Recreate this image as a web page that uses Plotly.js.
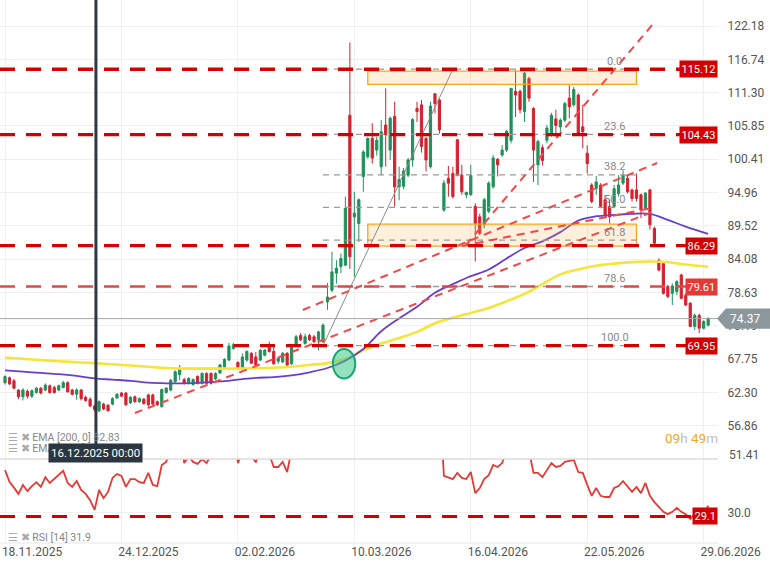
<!DOCTYPE html>
<html><head><meta charset="utf-8">
<script src="https://cdn.plot.ly/plotly-3.0.1.min.js"></script>
<style>html,body{margin:0;padding:0;background:#fff}#chart{width:770px;height:577px}</style>
</head><body><div id="chart"></div>
<script>
// ---------- DATA ----------
const openP = [63.9,64.7,64.2,62.7,61.6,62.5,61.7,62.3,63.0,62.7,63.4,63.1,62.7,63.1,63.9,62.7,62.0,62.7,61.5,61.2,
60.1,59.3,60.4,60.2,60.4,61.4,62.2,62.2,60.6,61.6,60.8,61.2,61.9,61.9,60.8,60.0,62.3,62.7,64.1,65.2,
64.4,63.8,63.6,64.9,63.8,65.4,65.4,64.5,65.5,66.5,67.6,69.5,67.2,66.2,67.6,68.7,68.1,67.6,68.4,70.0,
69.0,67.4,67.3,68.7,67.0,70.0,71.6,70.3,71.6,71.4,70.9,70.6,77.1,79.0,81.8,82.9,83.1,107.6,91.0,89.9,
97.6,100.8,103.8,101.9,99.2,106.0,101.9,107.4,95.9,96.0,97.8,100.3,108.7,109.3,103.8,99.2,111.1,110.1,92.1,97.3,
98.1,103.6,97.8,94.6,94.6,92.7,91.0,89.7,91.9,95.9,100.4,101.1,101.9,103.5,111.5,111.5,108.2,113.6,108.7,99.5,
102.3,103.5,104.4,107.0,105.7,106.8,110.4,109.3,110.9,105.7,101.4,96.2,95.6,96.2,93.8,92.7,92.7,94.8,96.5,97.3,
95.4,95.4,94.6,92.4,95.4,89.1,83.9,83.4,79.6,78.5,78.8,81.5,78.2,76.9,73.1,74.9,72.8,73.3];
const highP = [65.1,64.9,64.5,62.8,63.0,62.8,62.8,63.2,63.2,63.8,63.6,63.4,63.6,64.2,64.1,62.9,63.0,62.9,61.8,61.5,
60.3,61.0,60.6,60.4,61.5,62.2,62.4,62.4,61.7,61.8,61.5,61.4,62.1,62.1,61.0,62.9,63.2,64.5,65.9,66.8,
64.7,64.8,64.6,65.1,65.6,65.6,65.6,65.6,67.0,67.9,70.4,70.4,67.4,68.7,69.2,68.9,68.9,69.4,69.4,70.6,
70.0,68.1,68.9,68.9,70.2,71.7,72.0,71.9,71.9,71.7,72.4,73.6,80.2,85.3,83.9,85.0,94.3,119.5,95.1,94.0,
101.9,104.0,106.3,104.1,106.8,112.0,107.4,109.8,99.2,99.0,100.6,107.1,109.8,110.1,104.1,109.8,111.2,110.3,97.0,99.3,
99.2,103.7,99.5,95.1,99.5,93.2,91.5,94.1,96.8,101.1,100.6,102.7,105.2,112.0,115.0,111.8,114.7,113.9,108.9,103.6,
102.8,106.0,108.0,108.5,107.1,109.8,112.5,112.2,111.2,109.3,102.7,96.5,97.7,96.5,94.6,93.8,96.2,97.8,98.6,97.8,
95.6,98.1,94.8,95.0,95.6,89.4,84.2,83.7,79.9,80.1,80.7,81.7,78.5,77.0,75.2,75.2,74.1,74.6];
const lowP = [63.6,63.5,62.8,61.2,61.0,61.3,61.4,62.1,62.0,62.5,62.1,62.1,62.5,63.0,62.3,61.8,61.1,61.0,60.8,59.9,
59.2,59.1,59.4,59.2,60.2,61.2,61.6,60.1,60.4,60.6,60.6,60.3,59.7,60.2,60.1,59.8,62.1,62.5,63.7,64.3,
63.6,63.6,63.4,63.6,63.6,63.6,63.6,64.3,65.3,66.3,67.4,69.3,66.0,65.9,67.3,66.9,66.5,67.4,68.2,68.8,
66.8,67.0,67.1,66.6,66.8,69.8,70.7,70.1,70.7,70.4,69.2,70.4,75.8,78.7,80.1,81.8,83.0,82.5,81.2,86.9,
95.1,100.5,99.7,101.0,97.8,99.2,100.3,92.7,93.7,95.5,97.5,99.2,106.5,101.5,98.4,98.9,107.9,104.6,91.8,94.3,
94.0,97.6,94.6,94.0,94.5,83.7,88.0,89.1,91.6,95.6,97.6,100.8,101.6,103.0,107.3,107.9,106.5,109.8,96.7,96.2,
99.4,103.0,104.1,104.1,104.1,106.5,107.1,109.0,104.3,102.2,98.1,93.2,94.6,92.4,91.0,89.9,92.4,94.3,96.2,94.8,
93.5,93.5,90.8,92.1,88.9,86.4,82.1,78.3,77.7,76.6,78.2,77.5,76.4,73.0,72.5,72.0,72.6,73.1];
const closeP = [64.9,63.7,63.0,61.6,62.7,61.7,62.6,63.0,62.2,63.5,62.3,62.3,63.4,63.9,62.4,62.0,62.7,61.3,61.0,60.1,
59.5,60.8,59.6,59.3,61.3,62.0,61.7,60.3,61.5,60.8,61.3,60.5,60.3,60.4,60.3,62.8,63.0,64.3,65.7,66.1,
63.8,64.6,64.4,63.8,65.4,63.8,63.8,65.4,66.8,67.7,69.9,70.1,66.3,68.1,69.0,67.1,66.8,69.2,69.2,69.0,
67.0,67.9,68.7,66.8,70.0,71.4,70.9,71.4,70.9,70.6,72.2,73.3,77.9,82.0,82.6,84.2,92.4,84.5,91.6,93.8,
101.6,103.8,100.6,103.5,104.9,104.4,107.1,95.9,97.1,98.5,100.3,106.9,108.2,102.5,100.3,109.1,109.5,105.2,96.5,96.5,
94.3,97.8,95.1,95.0,97.8,89.9,88.3,93.8,96.5,100.6,99.5,101.9,105.0,112.0,110.9,108.5,114.5,110.4,101.9,103.3,
100.2,105.5,107.6,105.9,106.8,109.5,109.0,111.8,104.6,104.9,99.7,93.5,96.7,92.7,91.3,91.0,95.6,96.2,97.8,95.1,
94.0,94.0,92.1,94.9,89.7,86.7,82.3,78.5,78.0,79.7,80.4,77.7,76.6,73.1,74.9,72.8,73.9,74.4];

const rsi14 = [41.0,38.0,36.5,34.9,37.2,35.6,36.9,37.9,36.7,39.2,37.7,38.7,39.7,40.8,37.7,36.7,38.2,35.9,34.9,33.3,
30.8,35.9,33.8,35.4,39.0,40.0,39.5,36.7,38.7,38.7,37.9,37.7,40.3,37.2,36.9,42.3,43.1,47,52,54,
42.8,44.5,43.1,42.6,43.8,42.8,45,48,51,55,58,57,42.8,46,48,44.5,43.1,46,47,45,
41.8,41.8,43.1,40.5,48,52,50,53,51,50,55,60,68,72,73,75,82,60,68,71,
76,78,70,73,70,68,72,56,58,61,63,68,68,58,56,66,64,60,39.5,39.2,
38.7,40.3,39.0,38.7,40.5,35.1,36.4,38.7,39.7,42.3,41.8,42.8,46,55,54,50,57,46,40.3,40.3,
39.2,41.0,42.8,41.8,42.1,43.1,43.3,43.6,40.5,40.3,37.2,34.4,36.4,34.4,34.1,34.1,36.4,36.9,38.2,36.9,
35.4,36.7,35.1,37.7,34.4,32.8,31.5,30.3,29.7,30.3,31.3,30.3,29.7,28.5,29.7,30.3,29.3,31.9];

const emaIdx = [0,4,8,12,16,20,24,28,32,36,40,44,48,52,56,60,64,68,72,76,80,84,88,92,96,100,104,108,112,116,120,124,128,132,136,140,144,148,152,157];
const ema50 = [65.9,65.7,65.5,65.3,65.0,64.6,64.4,64.2,63.9,63.8,63.8,63.9,64.1,64.4,64.7,64.8,65.1,65.6,66.3,67.5,
69.4,72.3,74.4,76.3,78.6,80.0,81.3,82.4,84.2,85.9,87.0,88.5,90.4,91.1,91.3,91.5,91.5,90.5,89.4,88.2];
const ema200 = [68.0,67.8,67.6,67.4,67.25,67.1,66.9,66.7,66.5,66.3,66.2,66.2,66.2,66.2,66.25,66.35,66.5,66.8,67.1,67.8,
69.2,70.3,71.2,72.2,73.6,74.5,75.3,76.1,77.2,78.4,80.0,81.6,82.4,83.0,83.35,83.6,83.7,83.6,83.2,82.83];

const xTickIdx = [0,26,52,78,104,130,156];
const xTickText = ['18.11.2025','24.12.2025','02.02.2026','10.03.2026','16.04.2026','22.05.2026','29.06.2026'];
const yTickVals = [122.18,116.74,111.30,105.85,100.41,94.96,89.52,84.08,78.63,73.19,67.75,62.30,56.86];
const yBottomLabel = 51.41;

const keyLevels = [115.12,104.43,86.29,79.61,69.95];
const fibHigh = 115.12, fibLow = 69.95;
const fibLevels = [0.0,23.6,38.2,50.0,61.8,78.6,100.0];
const fibStartIdx = 71, fibEndIdx = 141, fibHighIdx = 100;
const lastPrice = 74.37;
const rsiLevel = 29.1;
const markerIdx = 20.3;
const markerLabel = '16.12.2025 00:00';
const topZone = [112.65,114.8], lowZone = [86.2,89.8], zoneIdx = [81,141];
const trendLines = [
  [29.0,58.94,144.5,91.79],
  [66.5,75.78,145.6,99.8],
  [102.0,86.23,144.5,92.45],
  [102.9,86.40,144.5,122.35]
];
const crossIdx = [73.2,78.2], crossPrice = [64.6,69.4];

// ---------- CHART ----------
const idx = openP.map((_, i) => i);
const D0 = 84/543;
const yMain = [51.43,126.43];
const paperY = p => D0 + (p - yMain[0]) / (yMain[1] - yMain[0]) * (1 - D0);
const FONT = 'Roboto, "Open Sans", sans-serif';

const traces = [
  {type:'candlestick', x:idx, open:openP, high:highP, low:lowP, close:closeP, xaxis:'x', yaxis:'y',
   increasing:{line:{color:'#1f915a', width:1}, fillcolor:'#1f915a'},
   decreasing:{line:{color:'#d3222f', width:1}, fillcolor:'#d3222f'},
   whiskerwidth:0, hoverinfo:'skip', showlegend:false},
  {type:'scatter', mode:'lines', x:emaIdx, y:ema200, line:{color:'#f7e43a', width:2.6, shape:'spline'}, xaxis:'x', yaxis:'y', hoverinfo:'skip', showlegend:false},
  {type:'scatter', mode:'lines', x:emaIdx, y:ema50, line:{color:'#6a3fc8', width:1.8, shape:'spline'}, xaxis:'x', yaxis:'y', hoverinfo:'skip', showlegend:false},
  {type:'scatter', mode:'lines', x:idx, y:rsi14, line:{color:'#e53935', width:1.8}, xaxis:'x', yaxis:'y2', hoverinfo:'skip', showlegend:false}
];

const shapes = [];
[topZone, lowZone].forEach(z => shapes.push({type:'rect', xref:'x', yref:'y', x0:zoneIdx[0], x1:zoneIdx[1], y0:z[0], y1:z[1],
  fillcolor:'rgba(255,170,60,0.18)', line:{color:'#f5a623', width:1.3}}));
fibLevels.forEach(l => { const p = fibHigh - l/100*(fibHigh - fibLow);
  shapes.push({type:'line', xref:'x', yref:'y', x0:fibStartIdx, x1:fibEndIdx, y0:p, y1:p, line:{color:'#9a9a9a', width:1.3, dash:'6px,5px'}}); });
shapes.push({type:'line', xref:'x', yref:'y', x0:fibStartIdx, y0:fibLow, x1:fibHighIdx, y1:fibHigh, line:{color:'#8a8a8a', width:1}});
trendLines.forEach(t => shapes.push({type:'line', xref:'x', yref:'y', x0:t[0], y0:t[1], x1:t[2], y1:t[3], line:{color:'#f04848', width:2, dash:'8px,6px'}}));
shapes.push({type:'line', xref:'paper', yref:'y', x0:0, x1:1, y0:lastPrice, y1:lastPrice, line:{color:'#a6a6a6', width:1}});
keyLevels.forEach(l => { const light = (l === 79.61);
  shapes.push({type:'line', xref:'paper', yref:'y', x0:0, x1:1, y0:l, y1:l, line:{color: light ? '#e84545' : '#d40000', width: light ? 2.6 : 3.4, dash:'15px,11px'}}); });
shapes.push({type:'circle', xref:'x', yref:'y', x0:crossIdx[0], x1:crossIdx[1], y0:crossPrice[0], y1:crossPrice[1],
  fillcolor:'rgba(60,200,140,0.55)', line:{color:'#17a673', width:2}});
shapes.push({type:'line', xref:'x', yref:'paper', x0:markerIdx, x1:markerIdx, y0:D0 + 0.02, y1:1, line:{color:'#2d3943', width:3}});
shapes.push({type:'line', xref:'paper', yref:'paper', x0:0, x1:1, y0:D0, y1:D0, line:{color:'#dcdcdc', width:1.5}});
shapes.push({type:'line', xref:'paper', yref:'paper', x0:0, x1:1, y0:0, y1:0, line:{color:'#e6e6e6', width:1}});
shapes.push({type:'line', xref:'paper', yref:'y2', x0:0, x1:1, y0:rsiLevel, y1:rsiLevel, line:{color:'#d40000', width:3, dash:'15px,11px'}});
const pxToPaperX = px => px / 718;
shapes.push({type:'path', xref:'paper', yref:'paper', fillcolor:'#8c979c', line:{width:0},
  path:`M ${pxToPaperX(717)},${paperY(lastPrice)} L ${pxToPaperX(726)},${paperY(lastPrice+1.65)} L ${pxToPaperX(770)},${paperY(lastPrice+1.65)} L ${pxToPaperX(770)},${paperY(lastPrice-1.65)} L ${pxToPaperX(726)},${paperY(lastPrice-1.65)} Z`});

const ann = [];
keyLevels.forEach(l => ann.push({xref:'paper', yref:'y', x:1, y:l, xanchor:'right', yanchor:'middle', text:l.toFixed(2), showarrow:false,
  font:{family:FONT, size:11, color:'#fff'}, bgcolor: l === 79.61 ? '#e53935' : '#d40000', borderpad:1.5}));
ann.push({xref:'paper', yref:'y2', x:1, y:rsiLevel, xanchor:'right', yanchor:'middle', text:rsiLevel.toFixed(1), showarrow:false,
  font:{family:FONT, size:11, color:'#fff'}, bgcolor:'#d40000', borderpad:1.5});
ann.push({xref:'paper', yref:'y', x:pxToPaperX(728), y:lastPrice, xanchor:'left', yanchor:'middle', text:lastPrice.toFixed(2), showarrow:false,
  font:{family:FONT, size:12, color:'#fff'}});
ann.push({xref:'paper', yref:'paper', x:pxToPaperX(727), y:1-455/543, xanchor:'left', yanchor:'middle', text:yBottomLabel.toFixed(2), showarrow:false,
  font:{family:FONT, size:12, color:'#555'}});
fibLevels.forEach(l => { const p = fibHigh - l/100*(fibHigh - fibLow);
  ann.push({xref:'x', yref:'y', x:136.2, y:p, yshift:8, text:l.toFixed(1), showarrow:false, font:{family:FONT, size:11, color:'#888'}}); });
ann.push({xref:'paper', yref:'paper', x:pxToPaperX(6), y:1-437/543, xanchor:'left', yanchor:'middle', showarrow:false,
  text:'<span style="color:#aaa">☰ ✖</span> EMA [200, 0] ' + ema200[ema200.length-1].toFixed(2), font:{family:FONT, size:10.5, color:'#888'}});
ann.push({xref:'paper', yref:'paper', x:pxToPaperX(6), y:1-448/543, xanchor:'left', yanchor:'middle', showarrow:false,
  text:'<span style="color:#aaa">☰ ✖</span> EMA [50, 0] ' + ema50[ema50.length-1].toFixed(2), font:{family:FONT, size:10.5, color:'#888'}});
ann.push({xref:'x', yref:'paper', x:markerIdx, y:1-453/543, xanchor:'center', yanchor:'middle', showarrow:false,
  text:markerLabel, font:{family:FONT, size:11.5, color:'#fff'}, bgcolor:'#2b3640', borderpad:2});
ann.push({xref:'paper', yref:'paper', x:pxToPaperX(6), y:1-537/543, xanchor:'left', yanchor:'middle', showarrow:false,
  text:'<span style="color:#aaa">☰ ✖</span> RSI [14] ' + rsi14[rsi14.length-1].toFixed(1), font:{family:FONT, size:10.5, color:'#888'}});
ann.push({xref:'paper', yref:'paper', x:pxToPaperX(720), y:1-438/543, xanchor:'right', yanchor:'middle', showarrow:false,
  text:'<span style="color:#f5a623">09</span><span style="color:#c0c0c0">h</span> <span style="color:#f5a623">49</span><span style="color:#c0c0c0">m</span>',
  font:{family:FONT, size:13.5, color:'#f5a623'}});

const layout = {
  width:770, height:577, margin:{l:0, r:52, t:0, b:34},
  paper_bgcolor:'#fff', plot_bgcolor:'#fff', showlegend:false, dragmode:false,
  font:{family:FONT, size:12, color:'#555'},
  xaxis:{range:[-1.12,159.2], anchor:'y2', tickvals:xTickIdx, ticktext:xTickText, ticklabelshift:27,
    showgrid:true, gridcolor:'#f0f0f0', zeroline:false, showline:false, rangeslider:{visible:false},
    tickfont:{family:FONT, size:12, color:'#555'}, ticks:'', fixedrange:true},
  yaxis:{domain:[D0,1], range:yMain, side:'right', anchor:'x', tickvals:yTickVals, ticktext:yTickVals.map(v=>v.toFixed(2)),
    showgrid:true, gridcolor:'#f0f0f0', zeroline:false, ticks:'outside', ticklen:6, tickcolor:'rgba(0,0,0,0)',
    tickfont:{family:FONT, size:12, color:'#555'}, fixedrange:true},
  yaxis2:{domain:[0,D0], range:[22.3,43.85], side:'right', anchor:'x', tickvals:[30], ticktext:['30.0'],
    showgrid:true, gridcolor:'#f0f0f0', zeroline:false, ticks:'outside', ticklen:6, tickcolor:'rgba(0,0,0,0)',
    tickfont:{family:FONT, size:12, color:'#555'}, fixedrange:true},
  shapes:shapes, annotations:ann
};
Plotly.newPlot('chart', traces, layout, {displayModeBar:false, staticPlot:true});
</script></body></html>
